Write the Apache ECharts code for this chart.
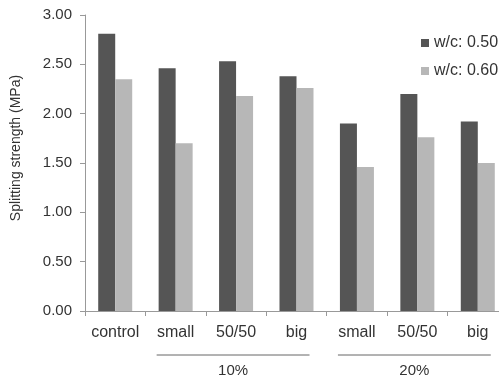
<!DOCTYPE html>
<html>
<head>
<meta charset="utf-8">
<script src="https://cdn.jsdelivr.net/npm/echarts@6/dist/echarts.min.js"></script>
<style>
html,body{margin:0;padding:0;background:#fff;overflow:hidden;}
#chart{width:510px;height:380px;}
</style>
</head>
<body>
<div id="chart"></div>
<script>
var categories = ['control', 'small', '50/50', 'big', 'small', '50/50', 'big'];
var seriesNames = ['w/c: 0.50', 'w/c: 0.60'];
var wc050 = [2.81, 2.46, 2.53, 2.38, 1.90, 2.20, 1.92];
var wc060 = [2.35, 1.70, 2.18, 2.26, 1.46, 1.76, 1.50];
var groupLabels = ['10%', '20%'];
var groupStart = [1, 4];
var groupEnd = [3, 6];
var yTicks = [0, 0.5, 1, 1.5, 2, 2.5, 3];

var font = 'Liberation Sans, Arial, sans-serif';
var chart = echarts.init(document.getElementById('chart'), null, {renderer: 'canvas'});
var option = {
  animation: false,
  backgroundColor: '#fff',
  textStyle: {fontFamily: font, color: '#333'},
  grid: {left: 85, top: 15, height: 296, width: 423, containLabel: false},
  legend: {
    orient: 'vertical',
    left: 421,
    top: 35,
    padding: 0,
    itemWidth: 8,
    itemHeight: 8,
    itemGap: 12,
    icon: 'rect',
    data: seriesNames,
    textStyle: {fontFamily: font, fontSize: 16, color: '#333'}
  },
  xAxis: {
    type: 'category',
    data: categories,
    boundaryGap: true,
    axisLine: {lineStyle: {color: '#999'}},
    axisTick: {show: true, length: 5, lineStyle: {color: '#999'}},
    axisLabel: {fontFamily: font, fontSize: 16, color: '#333', margin: 14, interval: 0}
  },
  yAxis: {
    type: 'value',
    min: yTicks[0],
    max: yTicks[yTicks.length - 1],
    interval: 0.5,
    name: 'Splitting strength (MPa)',
    nameLocation: 'middle',
    nameGap: 62,
    nameTextStyle: {fontFamily: font, fontSize: 14, color: '#333', padding: [0, 0, 0, 30]},
    axisLine: {show: true, lineStyle: {color: '#999'}},
    axisTick: {show: true, length: 5, lineStyle: {color: '#999'}},
    splitLine: {show: false},
    axisLabel: {fontFamily: font, fontSize: 15, color: '#333', margin: 13,
      formatter: function (v) { return v.toFixed(2); }}
  },
  series: [
    {name: seriesNames[0], type: 'bar', data: wc050, barWidth: 17, barGap: '0%',
     itemStyle: {color: '#555555'}},
    {name: seriesNames[1], type: 'bar', data: wc060, barWidth: 17, barGap: '0%',
     itemStyle: {color: '#b7b7b7'}}
  ]
};
chart.setOption(option);

var graphics = [];
var lineY = 355;
var labelY = 371;
for (var g = 0; g < groupLabels.length; g++) {
  var x0 = chart.convertToPixel({xAxisIndex: 0}, groupStart[g]) - 19;
  var x1 = chart.convertToPixel({xAxisIndex: 0}, groupEnd[g]) + 13;
  graphics.push({
    type: 'line', silent: true,
    shape: {x1: x0, y1: lineY, x2: x1, y2: lineY},
    style: {stroke: '#666', lineWidth: 1}
  });
  graphics.push({
    type: 'text', silent: true,
    x: (x0 + x1) / 2, y: labelY,
    style: {text: groupLabels[g], fontFamily: font, fontSize: 15, fill: '#333',
            align: 'center', verticalAlign: 'middle'}
  });
}
chart.setOption({graphic: graphics});
</script>
</body>
</html>
